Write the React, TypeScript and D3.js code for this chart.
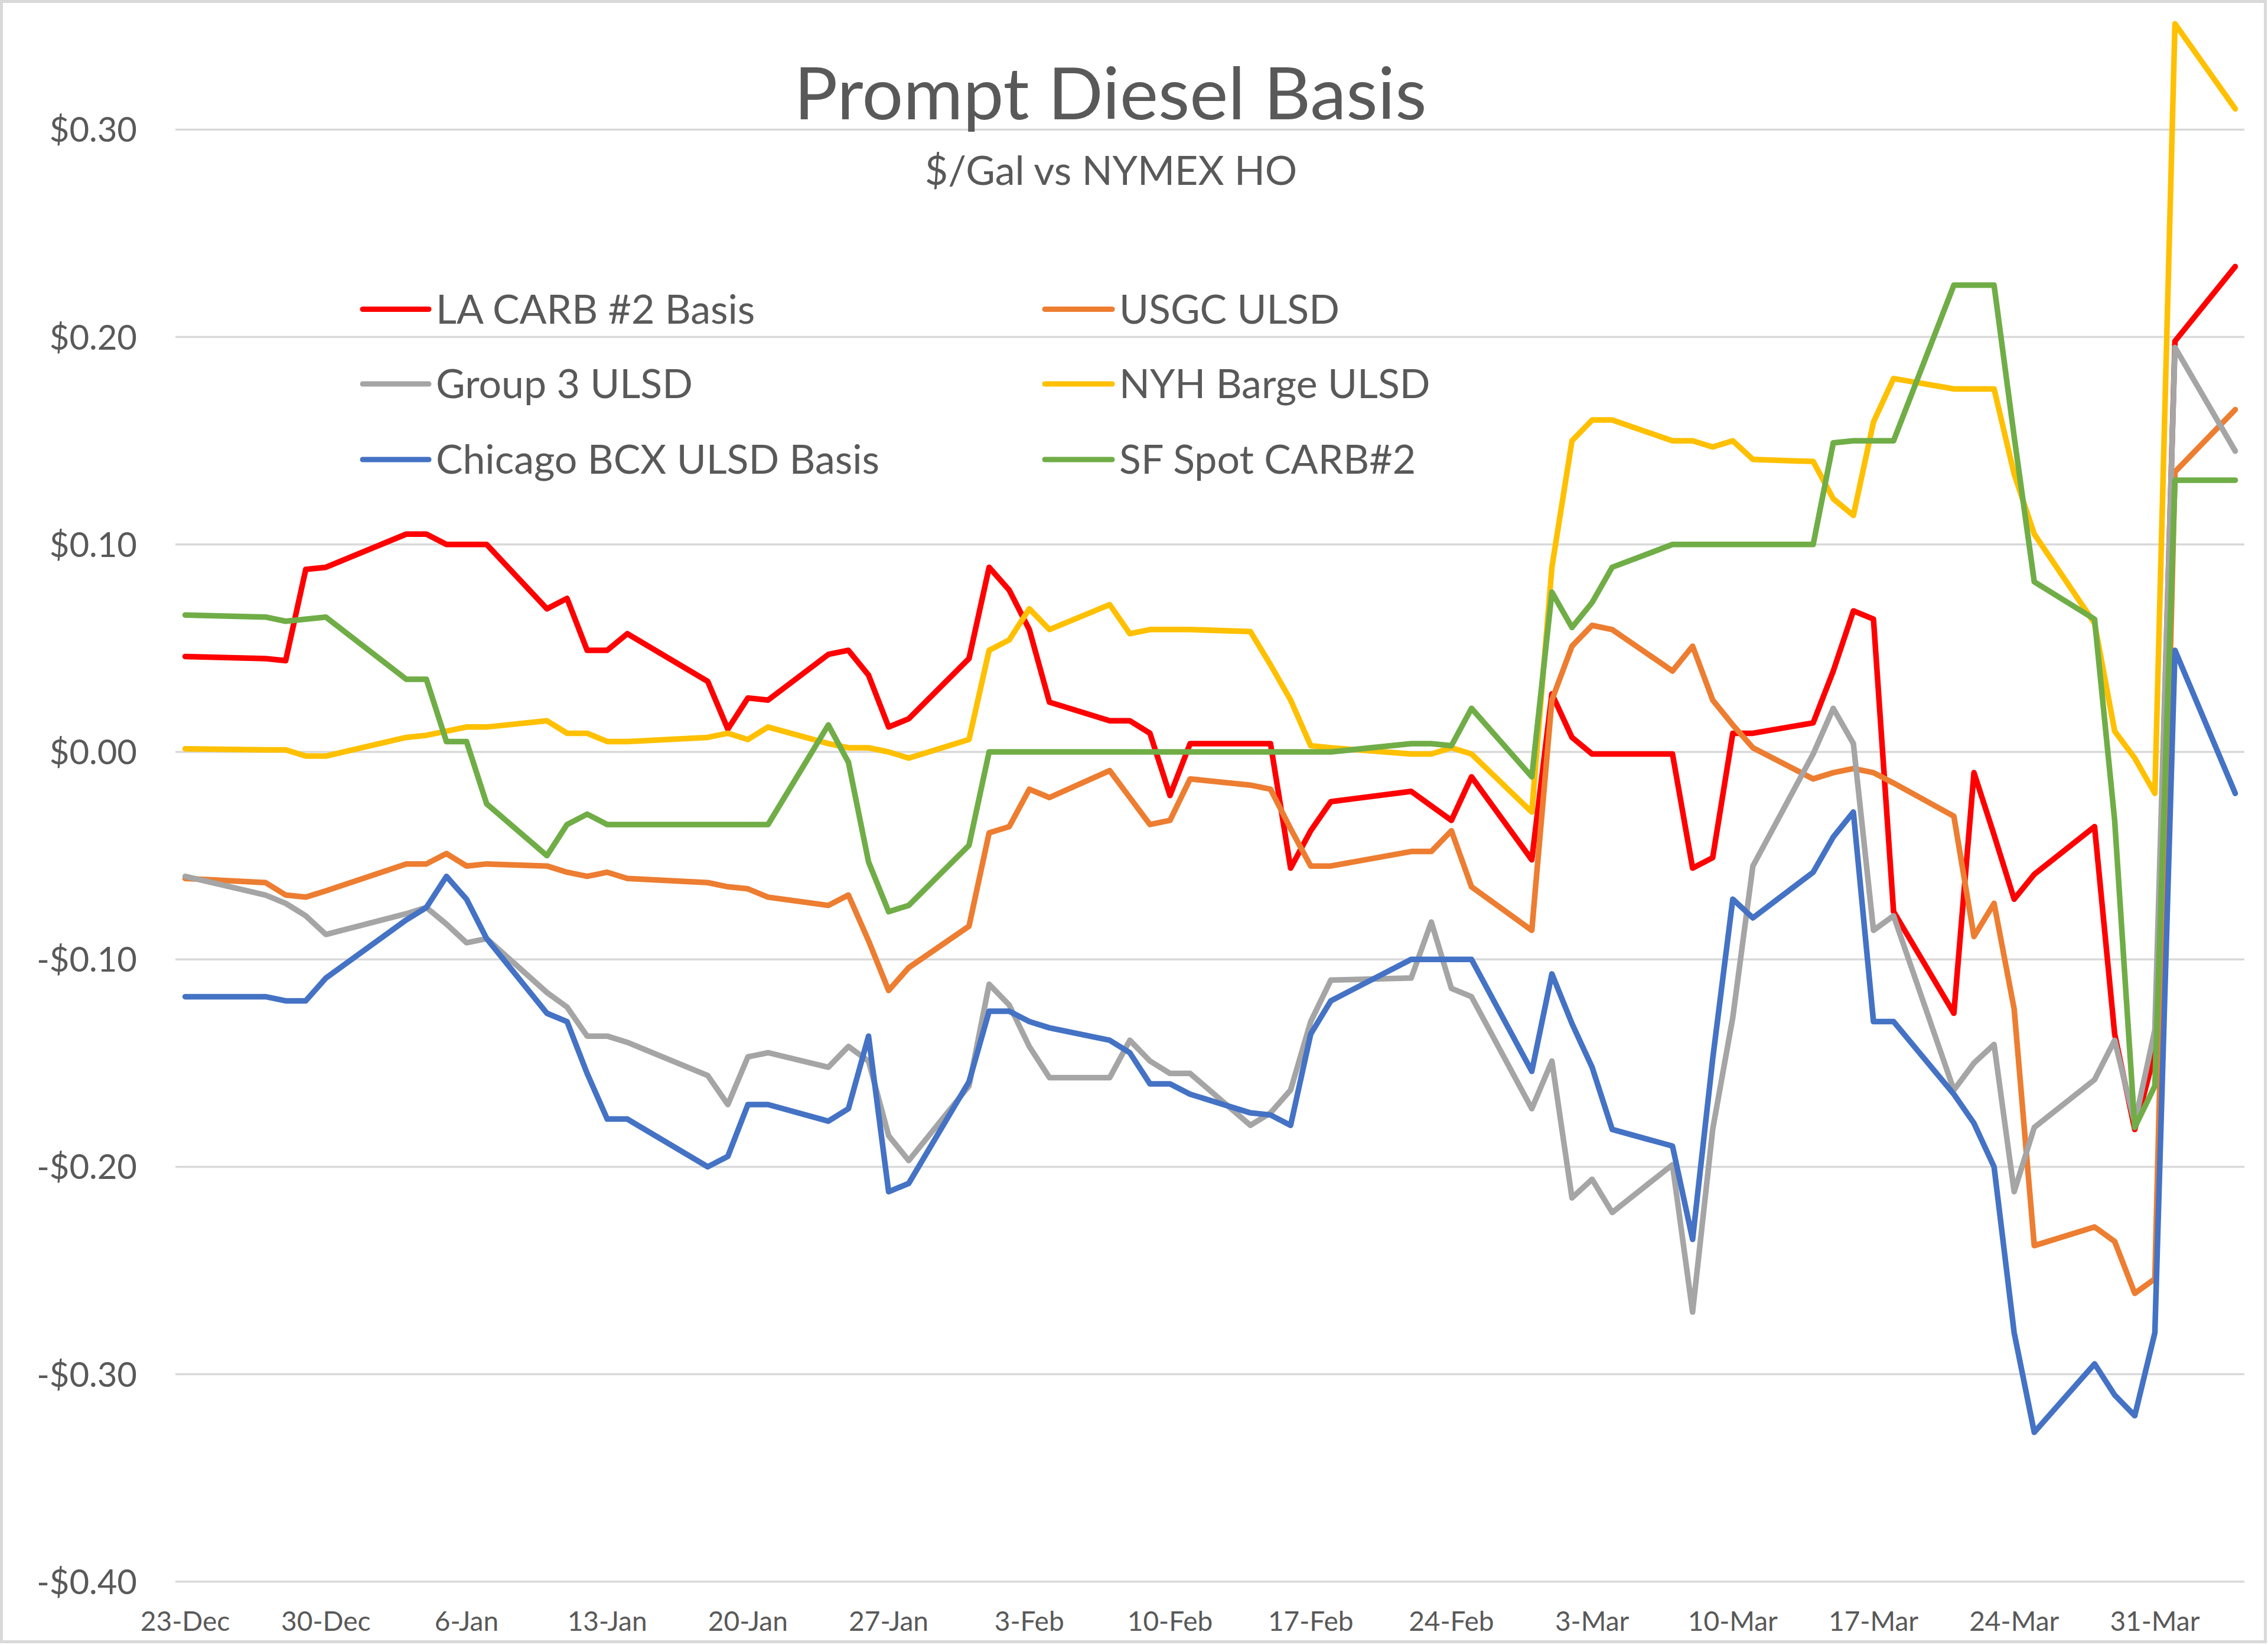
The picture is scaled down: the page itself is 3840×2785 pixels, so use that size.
import React from "react";
import * as d3 from "d3";

const W = 3840;
const H = 2785;

// Trading dates (weekdays with data)
const dates = [
  "2021-12-23", "2021-12-27", "2021-12-28", "2021-12-29", "2021-12-30",
  "2022-01-03", "2022-01-04", "2022-01-05", "2022-01-06", "2022-01-07",
  "2022-01-10", "2022-01-11", "2022-01-12", "2022-01-13", "2022-01-14",
  "2022-01-18", "2022-01-19", "2022-01-20", "2022-01-21",
  "2022-01-24", "2022-01-25", "2022-01-26", "2022-01-27", "2022-01-28",
  "2022-01-31", "2022-02-01", "2022-02-02", "2022-02-03", "2022-02-04",
  "2022-02-07", "2022-02-08", "2022-02-09", "2022-02-10", "2022-02-11",
  "2022-02-14", "2022-02-15", "2022-02-16", "2022-02-17", "2022-02-18",
  "2022-02-22", "2022-02-23", "2022-02-24", "2022-02-25",
  "2022-02-28", "2022-03-01", "2022-03-02", "2022-03-03", "2022-03-04",
  "2022-03-07", "2022-03-08", "2022-03-09", "2022-03-10", "2022-03-11",
  "2022-03-14", "2022-03-15", "2022-03-16", "2022-03-17", "2022-03-18",
  "2022-03-21", "2022-03-22", "2022-03-23", "2022-03-24", "2022-03-25",
  "2022-03-28", "2022-03-29", "2022-03-30", "2022-03-31", "2022-04-01",
  "2022-04-04",
];

const laCarb = [
  0.046, 0.045, 0.044, 0.088, 0.089,
  0.105, 0.105, 0.100, 0.100, 0.100,
  0.069, 0.074, 0.049, 0.049, 0.057,
  0.034, 0.011, 0.026, 0.025,
  0.047, 0.049, 0.037, 0.012, 0.016,
  0.045, 0.089, 0.078, 0.059, 0.024,
  0.015, 0.015, 0.009, -0.021, 0.004,
  0.004, 0.004, -0.056, -0.038, -0.024,
  -0.019, -0.026, -0.033, -0.012,
  -0.052, 0.028, 0.007, -0.001, -0.001,
  -0.001, -0.056, -0.051, 0.009, 0.009,
  0.014, 0.039, 0.068, 0.064, -0.077,
  -0.126, -0.010, -0.040, -0.071, -0.059,
  -0.036, -0.136, -0.182, -0.145, 0.198,
  0.234,
];

const usgc = [
  -0.061, -0.063, -0.069, -0.070, -0.067,
  -0.054, -0.054, -0.049, -0.055, -0.054,
  -0.055, -0.058, -0.060, -0.058, -0.061,
  -0.063, -0.065, -0.066, -0.070,
  -0.074, -0.069, -0.091, -0.115, -0.104,
  -0.084, -0.039, -0.036, -0.018, -0.022,
  -0.009, -0.022, -0.035, -0.033, -0.013,
  -0.016, -0.018, -0.037, -0.055, -0.055,
  -0.048, -0.048, -0.038, -0.065,
  -0.086, 0.025, 0.051, 0.061, 0.059,
  0.039, 0.051, 0.025, 0.013, 0.002,
  -0.013, -0.010, -0.008, -0.010, -0.015,
  -0.031, -0.089, -0.073, -0.124, -0.238,
  -0.229, -0.236, -0.261, -0.254, 0.135,
  0.165,
];

const group3 = [
  -0.060, -0.069, -0.073, -0.079, -0.088,
  -0.078, -0.075, -0.083, -0.092, -0.090,
  -0.116, -0.123, -0.137, -0.137, -0.140,
  -0.156, -0.170, -0.147, -0.145,
  -0.152, -0.142, -0.149, -0.185, -0.197,
  -0.161, -0.112, -0.122, -0.142, -0.157,
  -0.157, -0.139, -0.149, -0.155, -0.155,
  -0.180, -0.174, -0.163, -0.130, -0.110,
  -0.109, -0.082, -0.114, -0.118,
  -0.172, -0.149, -0.215, -0.206, -0.222,
  -0.199, -0.270, -0.182, -0.128, -0.055,
  -0.001, 0.021, 0.004, -0.086, -0.079,
  -0.163, -0.150, -0.141, -0.212, -0.181,
  -0.158, -0.139, -0.179, -0.134, 0.195,
  0.145,
];

const nyhBarge = [
  0.0015, 0.001, 0.001, -0.002, -0.002,
  0.007, 0.008, 0.010, 0.012, 0.012,
  0.015, 0.009, 0.009, 0.005, 0.005,
  0.007, 0.009, 0.006, 0.012,
  0.004, 0.002, 0.002, 0.000, -0.003,
  0.006, 0.049, 0.054, 0.069, 0.059,
  0.071, 0.057, 0.059, 0.059, 0.059,
  0.058, 0.042, 0.025, 0.003, 0.002,
  -0.001, -0.001, 0.002, -0.001,
  -0.029, 0.089, 0.150, 0.160, 0.160,
  0.150, 0.150, 0.147, 0.150, 0.141,
  0.140, 0.122, 0.114, 0.159, 0.180,
  0.175, 0.175, 0.175, 0.134, 0.105,
  0.062, 0.010, -0.003, -0.020, 0.351,
  0.310,
];

const chicago = [
  -0.118, -0.118, -0.120, -0.120, -0.109,
  -0.081, -0.075, -0.060, -0.071, -0.090,
  -0.126, -0.130, -0.155, -0.177, -0.177,
  -0.200, -0.195, -0.170, -0.170,
  -0.178, -0.172, -0.137, -0.212, -0.208,
  -0.159, -0.125, -0.125, -0.130, -0.133,
  -0.139, -0.145, -0.160, -0.160, -0.165,
  -0.174, -0.175, -0.180, -0.136, -0.120,
  -0.100, -0.100, -0.100, -0.100,
  -0.154, -0.107, -0.131, -0.152, -0.182,
  -0.190, -0.235, -0.148, -0.071, -0.080,
  -0.058, -0.041, -0.029, -0.130, -0.130,
  -0.165, -0.179, -0.200, -0.280, -0.328,
  -0.295, -0.310, -0.320, -0.280, 0.049,
  -0.020,
];

const sfSpot = [
  0.066, 0.065, 0.063, 0.064, 0.065,
  0.035, 0.035, 0.005, 0.005, -0.025,
  -0.050, -0.035, -0.030, -0.035, -0.035,
  -0.035, -0.035, -0.035, -0.035,
  0.013, -0.005, -0.053, -0.077, -0.074,
  -0.045, 0.000, 0.000, 0.000, 0.000,
  0.000, 0.000, 0.000, 0.000, 0.000,
  0.000, 0.000, 0.000, 0.000, 0.000,
  0.004, 0.004, 0.003, 0.021,
  -0.012, 0.077, 0.060, 0.072, 0.089,
  0.100, 0.100, 0.100, 0.100, 0.100,
  0.100, 0.149, 0.150, 0.150, 0.150,
  0.225, 0.225, 0.225, 0.152, 0.082,
  0.064, -0.033, -0.181, -0.161, 0.131,
  0.131,
];

const seriesNames = [
  "LA CARB #2 Basis",
  "USGC ULSD",
  "Group 3 ULSD",
  "NYH Barge ULSD",
  "Chicago BCX ULSD Basis",
  "SF Spot CARB#2",
];
const seriesColors = ["#FF0000", "#ED7D31", "#A5A5A5", "#FFC000", "#4472C4", "#70AD47"];
const seriesValues = [laCarb, usgc, group3, nyhBarge, chicago, sfSpot];

const tickDates = [
  "2021-12-23", "2021-12-30", "2022-01-06", "2022-01-13", "2022-01-20",
  "2022-01-27", "2022-02-03", "2022-02-10", "2022-02-17", "2022-02-24",
  "2022-03-03", "2022-03-10", "2022-03-17", "2022-03-24", "2022-03-31",
];
const tickLabels = [
  "23-Dec", "30-Dec", "6-Jan", "13-Jan", "20-Jan",
  "27-Jan", "3-Feb", "10-Feb", "17-Feb", "24-Feb",
  "3-Mar", "10-Mar", "17-Mar", "24-Mar", "31-Mar",
];
const yTicks = [-0.4, -0.3, -0.2, -0.1, 0, 0.1, 0.2, 0.3];

const FONT = "Lato, 'Open Sans', sans-serif";
const TEXT = "#595959";

export default function App() {
  const parse = d3.utcParse("%Y-%m-%d");
  const dts = dates.map((d) => parse(d) as Date);

  const plotLeft = 297;
  const plotRight = 3800;

  const x = d3
    .scaleUtc()
    .domain([parse("2021-12-23") as Date, parse("2022-03-31") as Date])
    .range([313.5, 313.5 + 98 * 34.03]);
  const y = d3.scaleLinear().domain([-0.4, 0.35]).range([2677.8, 43.8]);

  const line = d3
    .line<number>()
    .x((_, i) => x(dts[i]))
    .y((v) => y(v));

  const fmt = (v: number) => {
    const s = "$" + Math.abs(v).toFixed(2);
    return v < -1e-9 ? "-" + s : s;
  };

  const legendRows = [523.5, 650, 778];
  const legendCols = [
    { x1: 614, x2: 726, tx: 738 },
    { x1: 1769, x2: 1883, tx: 1895 },
  ];

  return (
    <svg
      width={W}
      height={H}
      style={{ position: "absolute", left: 0, top: 0, background: "#fff" }}
      fontFamily={FONT}
    >
      <rect x={0} y={0} width={W} height={H} fill="#fff" />
      <rect x={2.5} y={2.5} width={W - 7} height={H - 8} fill="none" stroke="#D9D9D9" strokeWidth={5} />

      {/* gridlines */}
      {yTicks.map((t) => (
        <line key={"g" + t} x1={plotLeft} x2={plotRight} y1={y(t)} y2={y(t)} stroke="#D9D9D9" strokeWidth={3.5} />
      ))}

      {/* y labels */}
      {yTicks.map((t) => (
        <text key={"yl" + t} x={232} y={y(t) + 21} textAnchor="end" fontSize={58} fill={TEXT}>
          {fmt(t)}
        </text>
      ))}

      {/* x labels */}
      {tickDates.map((d, i) => (
        <text key={"xl" + d} x={x(parse(d) as Date)} y={2761} textAnchor="middle" fontSize={46} fill={TEXT}>
          {tickLabels[i]}
        </text>
      ))}

      {/* title */}
      <text x={1880} y={202} textAnchor="middle" fontSize={123} fill={TEXT}>
        Prompt Diesel Basis
      </text>
      <text x={1881} y={313} textAnchor="middle" fontSize={68} fill={TEXT}>
        $/Gal vs NYMEX HO
      </text>

      {/* series */}
      {seriesValues.map((vals, si) => (
        <path
          key={"s" + si}
          d={line(vals) || ""}
          fill="none"
          stroke={seriesColors[si]}
          strokeWidth={9.5}
          strokeLinejoin="round"
          strokeLinecap="round"
        />
      ))}

      {/* legend */}
      {seriesNames.map((name, i) => {
        const row = Math.floor(i / 2);
        const col = legendCols[i % 2];
        const ry = legendRows[row];
        return (
          <g key={"lg" + i}>
            <line x1={col.x1} x2={col.x2} y1={ry} y2={ry} stroke={seriesColors[i]} strokeWidth={9} strokeLinecap="round" />
            <text x={col.tx} y={ry + 24} fontSize={68} fill={TEXT}>
              {name}
            </text>
          </g>
        );
      })}
    </svg>
  );
}
